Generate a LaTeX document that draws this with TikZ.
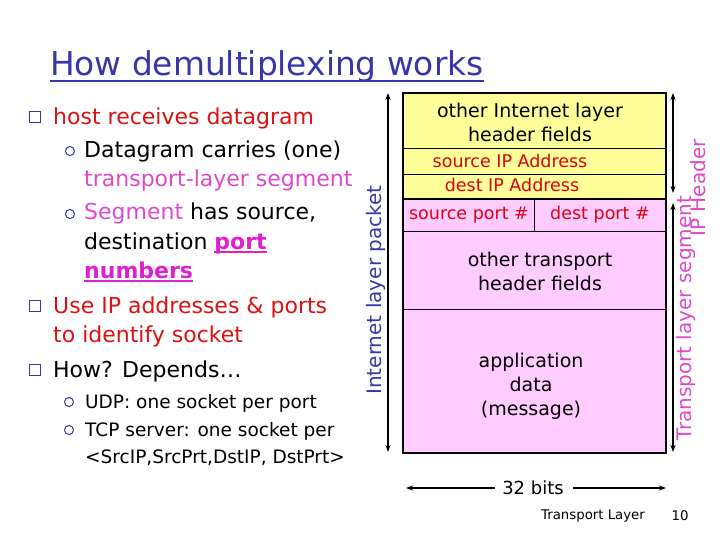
\documentclass[tikz,border=0pt]{standalone}
\usepackage{fontspec}
\setmainfont{DejaVu Sans}
\usepackage{tikz}
\usetikzlibrary{arrows.meta,positioning,calc}
\definecolor{titleBlue}{HTML}{3636A8}
\definecolor{bulletRed}{HTML}{DD1111}
\definecolor{segPink}{HTML}{E048C8}
\definecolor{portPink}{HTML}{E020D0}
\definecolor{ipYellow}{HTML}{FFFF99}
\definecolor{tcpPink}{HTML}{FFCCFF}
\definecolor{fieldRed}{HTML}{E00010}
\newcommand{\thickul}[1]{\setbox0\hbox{#1}\rlap{\rule[-4pt]{\wd0}{2pt}}\box0}

\begin{document}
\begin{tikzpicture}[
      x=1pt, y=-1pt,
      bodytxt/.style={anchor=base west, inner sep=0pt, font=\fontsize{22pt}{24pt}\selectfont},
      smalltxt/.style={anchor=base west, inner sep=0pt, font=\fontsize{18.5pt}{20pt}\selectfont},
      sqbullet/.style={rectangle, draw=titleBlue, line width=1.5pt, minimum size=11pt, inner sep=0pt},
      cbullet/.style={circle, draw=titleBlue, line width=1pt, minimum size=9pt, inner sep=0pt},
      ipfield/.style={rectangle, fill=ipYellow, draw=black, line width=0.8pt, inner sep=0pt, anchor=north west},
      tcpfield/.style={rectangle, fill=tcpPink, draw=black, line width=0.8pt, inner sep=0pt, anchor=north west},
      fieldtxt/.style={align=center, inner sep=0pt, font=\fontsize{19pt}{24pt}\selectfont},
      redtxt/.style={inner sep=0pt, text=fieldRed, font=\fontsize{17.5pt}{20pt}\selectfont},
      sidetxt/.style={rotate=90, inner sep=0pt, font=\fontsize{20pt}{22pt}\selectfont},
      dimarr/.style={-{Stealth[length=7pt, width=5pt]}, line width=1.3pt},
      dimboth/.style={{Stealth[length=7pt, width=5pt]}-{Stealth[length=7pt, width=5pt]}, line width=1.3pt}
    ]
      \useasboundingbox (0,0) rectangle (720,540);

      % title
      \node[anchor=base west, inner sep=0pt, text=titleBlue, font=\fontsize{32.8pt}{34pt}\selectfont] (title) at (50,76) {How demultiplexing works};
      \draw[titleBlue, line width=2pt] ([yshift=-5pt]title.base west) -- ([yshift=-5pt]title.base east);

      % bullet list
      \node[sqbullet] (q1) at (35,117) {};
      \node[bodytxt, text=bulletRed] (b1) at (53,125) {host receives datagram};
      \node[cbullet] (c1) at (70,151) {};
      \node[bodytxt] (b2) at (84,158) {Datagram carries (one)};
      \node[bodytxt, text=segPink] (b3) at (84,187) {transport-layer segment};
      \node[cbullet] (c2) at (70,214) {};
      \node[bodytxt] (b4) at (84,220) {{\color{segPink}Segment} has source,};
      \node[bodytxt] (b5) at (84,249) {destination {\color{portPink}\bfseries\thickul{port}}};
      \node[bodytxt, text=portPink] (b6) at (84,278) {\bfseries\thickul{numbers}};
      \node[sqbullet] (q2) at (35,306) {};
      \node[bodytxt, text=bulletRed] (b7) at (53,313) {Use IP addresses \& ports};
      \node[bodytxt, text=bulletRed] (b8) at (53,342) {to identify socket};
      \node[sqbullet] (q3) at (35,370) {};
      \node[bodytxt] (b9) at (53,377) {How? Depends…};
      \node[cbullet] (c3) at (69,402) {};
      \node[smalltxt] (b10) at (85,408) {UDP: one socket per port};
      \node[cbullet] (c4) at (69,430) {};
      \node[smalltxt] (b11) at (85,436) {TCP server: one socket per};
      \node[smalltxt] (b12) at (85,463) {<SrcIP,SrcPrt,DstIP, DstPrt>};

      % packet fields
      \node[ipfield, minimum width=262pt, minimum height=55pt] (ipother) at (403,93) {};
      \node[ipfield, minimum width=262pt, minimum height=26pt] (srcip) at (403,148) {};
      \node[ipfield, minimum width=262pt, minimum height=25pt] (dstip) at (403,174) {};
      \node[tcpfield, minimum width=131pt, minimum height=32pt] (srcport) at (403,199) {};
      \node[tcpfield, minimum width=131pt, minimum height=32pt] (dstport) at (534,199) {};
      \node[tcpfield, minimum width=262pt, minimum height=78pt] (tcpother) at (403,231) {};
      \node[tcpfield, minimum width=262pt, minimum height=143pt] (appdata) at (403,309) {};
      \draw[line width=2pt] (ipother.north west) rectangle (appdata.south east);
      \draw[line width=2.4pt] (srcport.north west) -- (dstport.north east);

      \node[fieldtxt] (t1) at (530,122) {other Internet layer\\header fields};
      \node[redtxt] (t2) at (510,161) {source IP Address};
      \node[redtxt] (t3) at (512,185) {dest IP Address};
      \node[redtxt] (t4) at (469,215) {source port \#};
      \node[redtxt] (t5) at (600,215) {dest port \#};
      \node[fieldtxt] (t6) at (540,271) {other transport\\header fields};
      \node[fieldtxt] (t7) at (531,386) {application\\data\\(message)};

      % side dimension arrows
      \coordinate (pktTop) at (388,93);
      \coordinate (pktBot) at (388,452);
      \coordinate (hdrTop) at (673,93);
      \coordinate (hdrBot) at (673,193);
      \coordinate (segTop) at (673,203);
      \coordinate (segBot) at (673,452);
      \draw[dimboth] (pktTop) -- (pktBot);
      \draw[dimboth] (hdrTop) -- (hdrBot);
      \draw[dimboth] (segTop) -- (segBot);
      \node[sidetxt, text=titleBlue] (pktlbl) at (376,290) {Internet layer packet};
      \node[sidetxt, text=segPink] (seglbl) at (686,318) {Transport layer segment};
      \node[sidetxt, text=segPink] (hdrlbl) at (698,188) {IP Header};

      % width
      \node[inner sep=0pt, font=\fontsize{18pt}{20pt}\selectfont] (bits) at (533,488) {32 bits};
      \coordinate (bitsL) at (406,488);
      \coordinate (bitsR) at (666,488);
      \draw[dimarr] ([xshift=-7pt]bits.west) -- (bitsL);
      \draw[dimarr] ([xshift=9pt]bits.east) -- (bitsR);

      % footer
      \node[inner sep=0pt, font=\fontsize{13.3pt}{15pt}\selectfont] (footer) at (593,516) {Transport Layer};
      \node[inner sep=0pt, font=\fontsize{13.3pt}{15pt}\selectfont] (pagenum) at (680,516) {10};
    \end{tikzpicture}
\end{document}
